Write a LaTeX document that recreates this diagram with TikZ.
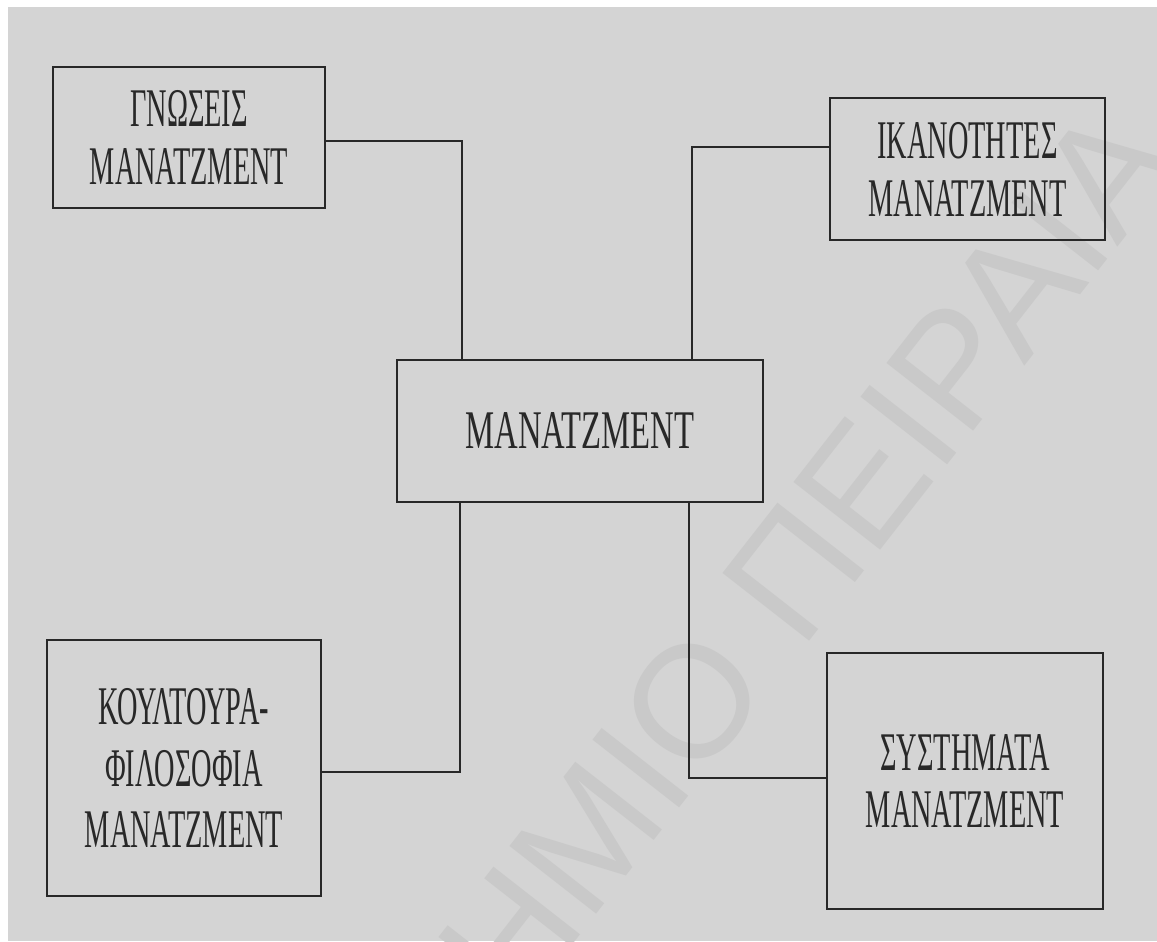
\documentclass[tikz,border=0pt]{standalone}
\usepackage{fontspec}
\setmainfont{Liberation Serif}
\newfontfamily\narrowserif[FakeStretch=0.52]{Liberation Serif}
\newfontfamily\mainserif[FakeStretch=0.6]{Liberation Serif}
\newfontfamily\wmsans{Liberation Sans}
\definecolor{paper}{RGB}{212,212,212}
\definecolor{wmark}{RGB}{201,201,201}
\definecolor{ink}{RGB}{40,40,40}

\begin{document}
\begin{tikzpicture}[x=0.02cm,y=-0.02cm,
  box/.style={draw=ink, line width=1.4pt, text=ink, align=center, inner sep=0pt,
    font=\narrowserif\fontsize{31}{33}\selectfont},
  link/.style={draw=ink, line width=1pt}]
\useasboundingbox (0,0) rectangle (1157,941);
\fill[white] (0,0) rectangle (1157,941);
\fill[paper] (8,7) rectangle (1157,941);
\begin{scope}
\clip (8,7) rectangle (1157,941);
\node[rotate=52, anchor=base east, inner sep=0pt, text=wmark,
  font=\wmsans\fontsize{91}{91}\selectfont] (watermark) at (1183,163) {ΠΑΝΕΠΙΣΤΗΜΙΟ ΠΕΙΡΑΙΑ};
\end{scope}

\node[box, minimum width=5.44cm, minimum height=2.82cm] (gnoseis) at (189,137.5) {ΓΝΩΣΕΙΣ\\ΜΑΝΑΤΖΜΕΝΤ};
\node[box, minimum width=5.5cm, minimum height=2.84cm] (ikanotites) at (967.5,169) {ΙΚΑΝΟΤΗΤΕΣ\\ΜΑΝΑΤΖΜΕΝΤ};
\node[box, minimum width=7.32cm, minimum height=2.84cm, font=\mainserif\fontsize{31}{33}\selectfont] (main) at (580,431) {ΜΑΝΑΤΖΜΕΝΤ};
\node[box, minimum width=5.48cm, minimum height=5.12cm, font=\narrowserif\fontsize{31}{35}\selectfont] (koultoura) at (184,768) {ΚΟΥΛΤΟΥΡΑ-\\ΦΙΛΟΣΟΦΙΑ\\ΜΑΝΑΤΖΜΕΝΤ};
\node[box, minimum width=5.52cm, minimum height=5.12cm] (systimata) at (965,781) {ΣΥΣΤΗΜΑΤΑ\\ΜΑΝΑΤΖΜΕΝΤ};

\coordinate (j1) at (462,141);
\coordinate (j2) at (692,147);
\coordinate (j3) at (460,772);
\coordinate (j4) at (689,778);
\draw[link] (gnoseis.east |- j1) -- (j1) -- (j1 |- main.north);
\draw[link] (ikanotites.west |- j2) -- (j2) -- (j2 |- main.north);
\draw[link] (main.south -| j3) -- (j3) -- (koultoura.east |- j3);
\draw[link] (main.south -| j4) -- (j4) -- (systimata.west |- j4);

\end{tikzpicture}
\end{document}
